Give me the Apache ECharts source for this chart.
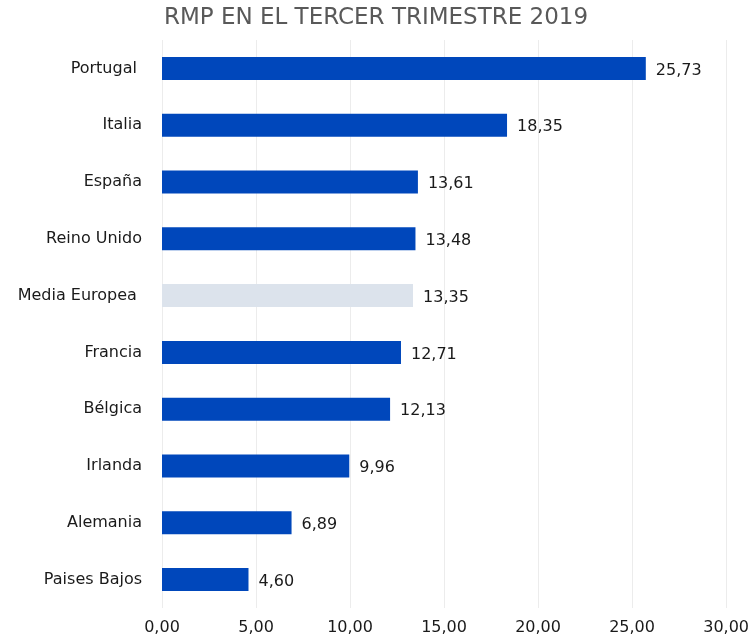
<!DOCTYPE html>
<html>
<head>
<meta charset="utf-8">
<script src="https://cdn.jsdelivr.net/npm/echarts@6/dist/echarts.min.js"></script>
<style>
html,body{margin:0;padding:0;background:#fff;}
#chart{width:752px;height:641px;}
</style>
</head>
<body>
<div id="chart"></div>
<script>
// categories listed bottom to top (echarts category axis goes upward)
const paises = ['Paises Bajos', 'Alemania', 'Irlanda', 'Bélgica', 'Francia', 'Media Europea ', 'Reino Unido', 'España', 'Italia', 'Portugal '];
const rmp = [4.60, 6.89, 9.96, 12.13, 12.71, 13.35, 13.48, 13.61, 18.35, 25.73];
const mediaIdx = 5;

const azul = '#0047BB';
const gris = '#DCE3EC';
const fuente = 'DejaVu Sans';

let chart = echarts.init(document.getElementById('chart'));

let option = {
    animation: false,
    title: {
        text: 'RMP EN EL TERCER TRIMESTRE 2019',
        left: 'center',
        top: 2,
        textStyle: {
            fontFamily: fuente,
            fontSize: 23,
            fontWeight: 'normal',
            color: '#595959'
        }
    },
    grid: {
        top: 40,
        bottom: 33,
        left: 162,
        right: 24
    },
    xAxis: {
        type: 'value',
        min: 0,
        max: 30,
        interval: 5,
        axisLine: {show: false},
        axisTick: {show: false},
        splitLine: {lineStyle: {color: '#ececec'}},
        axisLabel: {
            fontFamily: fuente,
            fontSize: 16,
            color: '#1a1a1a',
            margin: 12,
            formatter: v => v.toFixed(2).replace('.', ',')
        }
    },
    yAxis: {
        type: 'category',
        data: paises,
        axisLine: {show: false},
        axisTick: {show: false},
        axisLabel: {
            fontFamily: fuente,
            fontSize: 16,
            color: '#1a1a1a',
            margin: 20
        }
    },
    series: [{
        type: 'bar',
        barWidth: 23,
        data: rmp.map((v, i) => ({
            value: v,
            itemStyle: {color: i === mediaIdx ? gris : azul}
        })),
        label: {
            show: true,
            position: 'right',
            distance: 10,
            fontFamily: fuente,
            fontSize: 16,
            color: '#1a1a1a',
            offset: [0, 2],
            formatter: p => p.value.toFixed(2).replace('.', ',')
        }
    }]
};
chart.setOption(option, true);
</script>
</body>
</html>
